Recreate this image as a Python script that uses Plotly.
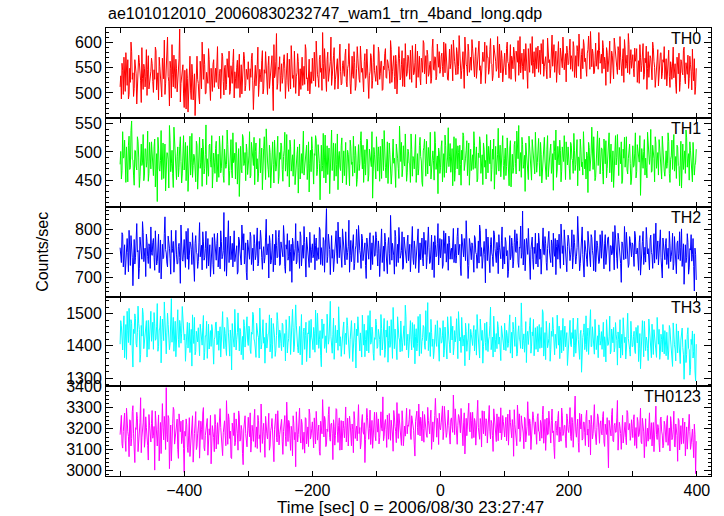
import plotly.graph_objects as go

# ---------------- data ----------------
# Each band is stored as two interleaved lists of 2-s samples:
#   <band>      -> bins at t = -500, -498, ... , 398
#   <band>_odd  -> bins at t = -499, -497, ... , 399
TIME_START = -500.0   # sec, first bin
TIME_BIN = 1.0        # sec per bin after interleaving

th0 = [
512, 488, 545, 571, 503, 530, 566, 497, 521, 583, 540, 509, 552, 478, 536, 561, 524, 590, 507, 548, 532, 495, 574, 519, 543,
558, 501, 527, 584, 539, 486, 552, 515, 569, 528, 497, 544, 611, 522, 563, 490, 537, 575, 509, 548, 526, 568, 482, 533, 556,
471, 512, 548, 462, 529, 504, 557, 486, 538, 496, 573, 519, 478, 545, 601, 527, 556, 499, 532, 588, 514, 549, 503, 566, 537,
521, 592, 508, 547, 530, 573, 496, 555, 517, 541, 583, 503, 536, 562, 490, 528, 551, 509, 577, 534, 498, 546, 569, 515, 540,
562, 505, 531, 579, 467, 538, 514, 556, 493, 547, 522, 584, 508, 539, 561, 497, 573, 528, 553, 512, 596, 536, 618, 519, 547,
503, 558, 531, 576, 489, 544, 520, 567, 508, 551, 535, 583, 499, 540, 562, 526, 507, 571, 544, 517, 586, 530, 555, 498, 542,
569, 524, 548, 603, 536, 511, 575, 549, 620, 528, 557, 503, 581, 539, 562, 515, 546, 590, 527, 553, 508, 571, 542, 519, 564,
533, 587, 512, 556, 541, 498, 573, 529, 560, 514, 592, 538, 521, 567, 549, 502, 578, 535, 556, 489, 543, 571, 525, 596, 537,
554, 516, 579, 538, 563, 507, 546, 588, 529, 561, 542, 604, 521, 557, 533, 575, 498, 549, 568, 530, 584, 545, 512, 563, 539,
572, 527, 555, 594, 536, 561, 510, 583, 547, 529, 569, 541, 599, 552, 518, 576, 538, 563, 528, 607, 545, 571, 533, 558, 582,
546, 579, 532, 568, 598, 551, 525, 587, 559, 541, 605, 562, 536, 579, 553, 592, 528, 566, 547, 611, 557, 534, 583, 560, 545,
589, 548, 572, 529, 567, 603, 554, 538, 581, 562, 519, 594, 571, 546, 608, 557, 535, 586, 563, 549, 575, 597, 540, 568, 553,
579, 536, 601, 558, 574, 527, 566, 591, 548, 583, 561, 535, 612, 570, 552, 587, 544, 576, 509, 563, 598, 555, 539, 582, 567,
548, 593, 561, 537, 579, 606, 553, 572, 528, 588, 566, 549, 615, 574, 541, 583, 559, 602, 536, 571, 550, 589, 563, 522, 580,
558, 607, 574, 543, 591, 564, 530, 582, 617, 555, 576, 548, 595, 569, 533, 586, 561, 622, 552, 578, 540, 599, 566, 547, 584,
563, 539, 590, 571, 515, 581, 556, 603, 544, 575, 528, 592, 560, 537, 584, 612, 553, 569, 521, 587, 558, 540, 596, 565, 549,
576, 532, 563, 588, 547, 519, 571, 554, 598, 536, 560, 507, 582, 545, 569, 526, 590, 551, 534, 573, 514, 557, 580, 538, 561,
527, 568, 543, 585, 511, 552, 574, 530, 558, 499, 547, 579, 521, 563, 536, 591, 518, 550, 575, 529, 556, 506, 543, 568, 512,
]
th0_odd = [
534, 559, 497, 522, 580, 515, 488, 549, 601, 527, 493, 566, 538, 505, 575, 542, 481, 529, 557, 512, 586, 547, 508, 537, 569,
523, 546, 591, 506, 540, 571, 529, 492, 543, 605, 518, 556, 533, 474, 549, 596, 512, 538, 567, 502, 534, 627, 519, 551, 498,
545, 468, 529, 504, 573, 487, 536, 518, 455, 551, 527, 492, 563, 508, 535, 577, 498, 541, 519, 566, 485, 530, 557, 511, 549,
560, 514, 538, 489, 579, 523, 550, 506, 568, 531, 497, 554, 519, 587, 542, 509, 565, 532, 491, 556, 523, 581, 504, 547, 527,
511, 548, 569, 524, 506, 555, 532, 591, 517, 536, 564, 498, 546, 582, 521, 554, 509, 539, 574, 465, 530, 563, 507, 551, 572,
535, 519, 563, 548, 524, 579, 503, 542, 594, 529, 511, 556, 532, 578, 494, 548, 571, 515, 553, 596, 528, 504, 567, 541, 519,
536, 581, 513, 552, 529, 567, 541, 505, 559, 588, 537, 566, 523, 550, 611, 532, 574, 507, 545, 568, 533, 597, 516, 555, 542,
575, 522, 549, 598, 518, 561, 537, 582, 505, 548, 569, 527, 593, 541, 515, 562, 529, 587, 552, 534, 578, 509, 561, 544, 523,
542, 591, 527, 563, 505, 553, 578, 531, 566, 549, 519, 586, 542, 574, 508, 559, 537, 592, 526, 556, 513, 569, 598, 533, 575,
548, 585, 521, 569, 540, 597, 552, 531, 573, 516, 561, 604, 538, 574, 585, 533, 556, 519, 589, 547, 572, 526, 597, 551, 539,
573, 552, 601, 540, 563, 527, 579, 548, 596, 524, 569, 551, 590, 537, 614, 561, 545, 582, 509, 575, 552, 597, 541, 571, 606,
561, 532, 590, 554, 578, 545, 518, 576, 563, 601, 548, 571, 537, 586, 559, 524, 595, 568, 543, 612, 530, 566, 584, 522, 578,
551, 588, 562, 529, 596, 573, 548, 581, 523, 569, 604, 557, 540, 579, 527, 565, 598, 553, 588, 541, 575, 612, 561, 532, 590,
572, 541, 585, 598, 558, 533, 571, 547, 609, 560, 530, 582, 553, 596, 567, 521, 574, 540, 589, 562, 611, 546, 578, 593, 556,
585, 547, 568, 602, 531, 574, 594, 553, 569, 528, 588, 606, 562, 541, 579, 613, 547, 572, 587, 538, 565, 553, 584, 620, 559,
577, 604, 548, 561, 590, 542, 575, 519, 583, 558, 609, 567, 551, 592, 546, 571, 534, 588, 606, 549, 575, 618, 537, 586, 571,
548, 589, 571, 521, 564, 596, 542, 580, 527, 569, 593, 549, 531, 574, 538, 601, 563, 511, 557, 586, 545, 579, 528, 566, 592,
555, 514, 579, 533, 562, 527, 591, 547, 516, 571, 538, 503, 566, 541, 585, 529, 560, 537, 509, 573, 542, 587, 524, 497, 549,
]

th1 = [
478, 452, 536, 491, 463, 509, 447, 528, 472, 555, 486, 441, 502, 468, 519, 437, 494, 476, 531, 459, 505, 483, 448, 517, 470,
496, 458, 523, 481, 412, 507, 466, 538, 489, 453, 514, 474, 498, 436, 521, 479, 462, 544, 487, 451, 509, 472, 527, 445, 493,
468, 517, 484, 430, 502, 459, 533, 476, 491, 447, 512, 465, 526, 481, 439, 505, 471, 548, 488, 457, 514, 473, 436, 498, 462,
519, 483, 455, 507, 471, 529, 446, 492, 478, 513, 441, 503, 467, 534, 485, 452, 497, 474, 421, 510, 463, 526, 480, 449, 501,
472, 536, 458, 495, 476, 442, 516, 488, 461, 524, 479, 433, 506, 470, 541, 484, 455, 499, 467, 518, 445, 492, 475, 528, 457,
487, 511, 448, 503, 466, 531, 477, 438, 509, 482, 457, 522, 471, 496, 427, 514, 486, 462, 537, 474, 499, 451, 518, 480, 465,
506, 443, 494, 521, 469, 488, 415, 512, 476, 454, 530, 483, 460, 507, 472, 539, 490, 449, 515, 478, 433, 501, 467, 525, 484,
458, 517, 475, 496, 440, 509, 482, 528, 463, 493, 451, 513, 479, 536, 470, 446, 504, 487, 521, 459, 497, 474, 418, 508, 481,
527, 466, 492, 510, 453, 485, 538, 472, 500, 444, 516, 478, 461, 523, 489, 437, 505, 471, 546, 483, 456, 511, 475, 494, 463,
501, 479, 532, 457, 488, 514, 446, 497, 470, 526, 484, 439, 508, 476, 519, 461, 493, 535, 468, 502, 450, 517, 481, 426, 498,
473, 520, 489, 455, 511, 477, 543, 492, 464, 506, 483, 448, 524, 470, 499, 512, 441, 486, 529, 474, 503, 458, 516, 488, 467,
495, 536, 471, 509, 452, 490, 518, 477, 442, 504, 485, 531, 463, 497, 521, 469, 487, 434, 510, 479, 542, 491, 456, 513, 476,
489, 458, 525, 481, 507, 438, 496, 472, 519, 461, 502, 547, 484, 455, 513, 478, 430, 500, 467, 528, 486, 450, 508, 473, 535,
464, 499, 482, 517, 445, 493, 526, 470, 505, 456, 488, 514, 475, 432, 501, 539, 468, 492, 521, 447, 509, 483, 460, 518, 477,
496, 451, 512, 485, 533, 467, 504, 440, 490, 523, 474, 459, 515, 487, 500, 428, 508, 481, 544, 469, 497, 455, 511, 476, 525,
484, 506, 443, 492, 520, 471, 498, 463, 514, 486, 437, 509, 477, 531, 458, 495, 518, 450, 489, 473, 527, 461, 503, 480, 452,
511, 476, 534, 465, 497, 482, 423, 506, 471, 522, 489, 454, 513, 478, 540, 466, 500, 447, 516, 483, 459, 507, 472, 528, 490,
457, 502, 480, 519, 446, 493, 469, 531, 485, 453, 509, 474, 498, 436, 514, 481, 462, 525, 488, 450, 503, 470, 517, 459, 482,
]
th1_odd = [
501, 467, 489, 521, 446, 483, 512, 469, 538, 487, 459, 503, 475, 527, 491, 456, 514, 482, 449, 506, 473, 537, 462, 495, 518,
462, 509, 438, 497, 526, 470, 485, 451, 516, 479, 431, 499, 486, 547, 465, 503, 437, 521, 474, 492, 456, 510, 483, 461, 529,
490, 449, 511, 473, 528, 482, 455, 496, 466, 519, 434, 489, 471, 507, 523, 461, 495, 442, 477, 512, 486, 529, 464, 482, 506,
447, 496, 528, 463, 490, 458, 505, 471, 539, 486, 467, 522, 454, 481, 498, 517, 443, 506, 488, 469, 531, 476, 499, 514, 460,
493, 454, 517, 482, 526, 501, 470, 447, 496, 463, 507, 489, 527, 451, 485, 469, 512, 436, 493, 478, 521, 466, 509, 444, 499,
516, 469, 492, 535, 481, 457, 504, 521, 466, 495, 514, 442, 488, 509, 473, 452, 497, 524, 459, 486, 512, 470, 429, 503, 527,
474, 497, 529, 458, 513, 480, 499, 466, 533, 491, 445, 511, 477, 426, 498, 467, 516, 484, 457, 532, 491, 473, 511, 445, 502,
489, 442, 503, 469, 521, 478, 457, 494, 510, 439, 484, 467, 520, 491, 512, 478, 459, 523, 448, 505, 480, 536, 466, 495, 452,
485, 509, 448, 477, 523, 467, 491, 454, 518, 487, 496, 443, 505, 480, 468, 514, 489, 453, 497, 517, 470, 483, 532, 448, 505,
480, 446, 505, 492, 470, 531, 485, 459, 511, 492, 446, 502, 523, 457, 484, 508, 475, 452, 501, 485, 536, 469, 493, 507, 462,
509, 447, 497, 530, 463, 491, 474, 515, 482, 440, 527, 467, 494, 511, 459, 478, 503, 534, 467, 489, 520, 479, 441, 505, 492,
469, 512, 486, 447, 498, 527, 462, 495, 516, 473, 452, 489, 510, 479, 448, 505, 523, 476, 460, 495, 466, 512, 487, 529, 451,
507, 474, 493, 440, 520, 486, 462, 513, 479, 537, 488, 466, 499, 526, 471, 494, 516, 482, 451, 506, 473, 522, 495, 461, 489,
481, 524, 457, 496, 472, 518, 484, 451, 529, 478, 503, 462, 497, 520, 486, 455, 510, 477, 503, 466, 492, 529, 451, 496, 509,
470, 517, 488, 462, 503, 478, 522, 491, 467, 505, 482, 536, 470, 452, 494, 517, 466, 498, 486, 527, 449, 484, 537, 495, 461,
507, 465, 523, 479, 454, 496, 534, 481, 447, 502, 471, 529, 490, 463, 508, 479, 444, 505, 526, 491, 468, 488, 514, 442, 495,
473, 498, 454, 513, 482, 529, 470, 491, 501, 459, 472, 535, 486, 495, 464, 512, 488, 527, 471, 499, 522, 480, 452, 497, 466,
498, 471, 534, 462, 487, 521, 505, 466, 492, 512, 476, 440, 519, 493, 469, 502, 539, 473, 497, 518, 481, 447, 493, 476, 505,
]

th2 = [
762, 731, 789, 744, 706, 771, 752, 798, 725, 760, 683, 779, 741, 812, 756, 719, 767, 738, 793, 748, 702, 775, 729, 764, 805,
746, 781, 715, 758, 733, 790, 754, 697, 769, 742, 826, 751, 722, 776, 739, 798, 760, 711, 785, 747, 729, 771, 688, 756, 734,
779, 721, 763, 802, 745, 770, 727, 756, 692, 787, 749, 733, 814, 758, 716, 774, 741, 796, 752, 724, 768, 739, 783, 707, 761,
736, 792, 750, 718, 775, 744, 835, 758, 703, 769, 731, 786, 754, 722, 797, 747, 766, 712, 778, 740, 809, 757, 728, 772, 695,
763, 738, 785, 752, 714, 771, 746, 803, 729, 759, 780, 717, 764, 742, 821, 755, 699, 773, 735, 790, 751, 726, 767, 743, 798,
728, 765, 743, 784, 709, 759, 736, 777, 754, 690, 771, 748, 812, 733, 762, 719, 786, 756, 740, 773, 701, 763, 745, 794, 731,
770, 747, 716, 782, 755, 738, 799, 762, 725, 776, 751, 843, 744, 768, 706, 787, 758, 733, 772, 749, 815, 741, 763, 721, 780,
752, 795, 737, 764, 711, 777, 748, 789, 729, 766, 742, 808, 756, 719, 781, 745, 772, 698, 761, 738, 793, 753, 727, 770, 746,
783, 724, 760, 744, 801, 757, 713, 775, 739, 767, 750, 829, 736, 762, 707, 785, 753, 731, 778, 746, 795, 720, 766, 742, 774,
735, 769, 752, 806, 727, 761, 744, 783, 710, 772, 757, 739, 794, 748, 718, 776, 763, 732, 788, 751, 700, 768, 745, 812, 758,
741, 779, 726, 764, 792, 749, 715, 773, 756, 738, 802, 761, 730, 785, 747, 769, 704, 777, 743, 760, 818, 754, 725, 771, 737,
766, 711, 782, 748, 759, 730, 797, 762, 741, 775, 689, 757, 784, 736, 768, 751, 723, 790, 745, 773, 708, 763, 739, 805, 755,
728, 774, 756, 713, 787, 744, 766, 734, 799, 752, 777, 721, 761, 740, 838, 757, 714, 781, 748, 769, 696, 775, 737, 763, 792,
749, 722, 776, 759, 739, 803, 747, 770, 715, 784, 753, 731, 767, 792, 744, 706, 778, 760, 736, 811, 750, 726, 772, 741, 765,
780, 735, 762, 718, 789, 754, 743, 827, 765, 729, 774, 748, 701, 769, 738, 796, 757, 722, 783, 745, 768, 712, 776, 753, 734,
761, 797, 742, 770, 727, 758, 784, 713, 766, 750, 738, 808, 755, 719, 779, 746, 690, 771, 737, 762, 794, 749, 728, 775, 743,
768, 723, 786, 752, 740, 773, 705, 759, 796, 745, 732, 779, 760, 716, 788, 747, 771, 730, 813, 755, 726, 766, 741, 699, 763,
737, 781, 754, 719, 770, 744, 792, 729, 762, 708, 776, 750, 735, 801, 747, 686, 768, 741, 773, 720, 757, 734, 781, 672, 748,
]
th2_odd = [
747, 793, 722, 768, 735, 781, 712, 759, 787, 741, 769, 728, 776, 753, 697, 784, 749, 816, 733, 761, 790, 744, 770, 719, 752,
773, 742, 797, 726, 764, 710, 778, 747, 739, 791, 758, 730, 786, 761, 707, 752, 775, 743, 798, 728, 764, 742, 809, 737, 766,
745, 796, 738, 717, 774, 758, 793, 741, 771, 752, 719, 772, 743, 767, 795, 736, 760, 719, 781, 757, 702, 752, 727, 791, 744,
771, 722, 763, 797, 739, 756, 713, 784, 747, 818, 761, 737, 771, 790, 733, 758, 707, 784, 755, 726, 765, 791, 746, 711, 778,
742, 794, 727, 761, 789, 737, 768, 724, 775, 798, 741, 753, 730, 784, 747, 770, 787, 728, 757, 712, 769, 798, 741, 783, 725,
774, 749, 808, 723, 768, 791, 744, 713, 769, 782, 735, 760, 728, 776, 750, 795, 724, 767, 806, 737, 784, 755, 721, 763, 758,
741, 789, 767, 735, 762, 804, 727, 749, 783, 711, 766, 731, 790, 758, 779, 740, 712, 765, 797, 729, 757, 784, 739, 801, 751,
726, 767, 752, 819, 746, 733, 771, 716, 759, 800, 731, 774, 747, 790, 735, 763, 725, 782, 754, 778, 716, 772, 787, 744, 795,
750, 776, 702, 789, 731, 765, 792, 748, 708, 783, 727, 763, 771, 745, 798, 723, 769, 804, 740, 756, 717, 784, 749, 730, 788,
767, 712, 793, 740, 776, 719, 755, 801, 765, 737, 782, 724, 761, 777, 741, 805, 729, 759, 716, 774, 787, 743, 770, 726, 781,
763, 719, 797, 750, 732, 770, 786, 738, 761, 795, 731, 769, 745, 803, 757, 724, 790, 752, 781, 735, 763, 698, 781, 749, 772,
738, 787, 752, 719, 776, 809, 744, 719, 770, 748, 801, 735, 763, 710, 783, 744, 797, 760, 731, 756, 789, 742, 776, 718, 764,
783, 745, 700, 766, 737, 782, 720, 773, 755, 791, 731, 763, 807, 752, 726, 779, 745, 769, 802, 736, 758, 784, 717, 750, 728,
771, 792, 738, 707, 763, 748, 785, 731, 760, 796, 742, 778, 722, 755, 781, 764, 738, 790, 719, 776, 766, 799, 745, 712, 788,
757, 747, 799, 741, 773, 728, 762, 782, 714, 750, 805, 731, 777, 752, 723, 772, 740, 789, 756, 714, 798, 745, 767, 729, 789,
740, 775, 718, 789, 754, 783, 733, 766, 747, 795, 716, 771, 740, 792, 762, 729, 774, 753, 806, 739, 760, 721, 785, 751, 772,
745, 796, 749, 761, 715, 787, 741, 775, 727, 763, 804, 749, 735, 780, 752, 719, 791, 760, 738, 776, 747, 799, 714, 782, 738,
770, 727, 761, 796, 733, 759, 716, 785, 743, 771, 738, 795, 762, 723, 770, 757, 731, 791, 707, 760, 789, 748, 723, 761, 695,
]

th3 = [
1405, 1462, 1387, 1493, 1421, 1358, 1447, 1516, 1402, 1469, 1334, 1438, 1485, 1396, 1523, 1451, 1372, 1430, 1498, 1412, 1456, 1365, 1479, 1428, 1507,
1442, 1389, 1470, 1421, 1531, 1398, 1455, 1347, 1483, 1416, 1460, 1375, 1501, 1433, 1408, 1546, 1449, 1383, 1476, 1427, 1512, 1395, 1464, 1437, 1480,
1418, 1352, 1446, 1393, 1471, 1410, 1337, 1435, 1488, 1382, 1424, 1456, 1369, 1441, 1402, 1494, 1379, 1430, 1361, 1467, 1415, 1398, 1452, 1343, 1427,
1474, 1405, 1386, 1459, 1422, 1506, 1391, 1438, 1370, 1481, 1414, 1449, 1325, 1433, 1396, 1468, 1420, 1502, 1384, 1445, 1407, 1357, 1463, 1429, 1490,
1401, 1453, 1376, 1436, 1497, 1412, 1364, 1444, 1425, 1517, 1390, 1458, 1408, 1346, 1471, 1419, 1439, 1381, 1486, 1403, 1450, 1367, 1432, 1478, 1394,
1441, 1385, 1465, 1417, 1353, 1448, 1409, 1492, 1373, 1434, 1456, 1399, 1527, 1416, 1378, 1460, 1426, 1341, 1444, 1389, 1473, 1410, 1437, 1362, 1482,
1415, 1457, 1380, 1429, 1501, 1392, 1447, 1335, 1423, 1468, 1404, 1379, 1451, 1419, 1538, 1400, 1436, 1358, 1463, 1414, 1386, 1476, 1428, 1396, 1455,
1374, 1439, 1487, 1408, 1361, 1445, 1421, 1393, 1470, 1331, 1431, 1459, 1384, 1413, 1495, 1402, 1366, 1448, 1425, 1378, 1509, 1411, 1443, 1355, 1420,
1466, 1397, 1432, 1370, 1454, 1412, 1485, 1388, 1427, 1349, 1461, 1405, 1438, 1519, 1391, 1423, 1357, 1446, 1418, 1477, 1383, 1434, 1401, 1490, 1414,
1363, 1440, 1419, 1472, 1395, 1344, 1453, 1407, 1430, 1498, 1376, 1425, 1458, 1389, 1416, 1534, 1403, 1367, 1442, 1421, 1384, 1465, 1398, 1435, 1352,
1449, 1411, 1478, 1386, 1426, 1359, 1440, 1403, 1491, 1418, 1372, 1447, 1431, 1394, 1506, 1415, 1379, 1457, 1422, 1338, 1444, 1409, 1469, 1387, 1436,
1401, 1463, 1424, 1371, 1452, 1396, 1483, 1417, 1346, 1438, 1410, 1474, 1382, 1429, 1520, 1405, 1365, 1446, 1419, 1391, 1459, 1427, 1354, 1441, 1412,
1470, 1385, 1433, 1407, 1496, 1420, 1362, 1451, 1398, 1428, 1376, 1462, 1415, 1533, 1390, 1437, 1408, 1348, 1445, 1423, 1487, 1399, 1431, 1369, 1456,
1412, 1381, 1466, 1425, 1394, 1503, 1418, 1357, 1440, 1406, 1471, 1388, 1429, 1453, 1372, 1417, 1495, 1402, 1360, 1448, 1421, 1385, 1461, 1414, 1339,
1432, 1479, 1397, 1423, 1366, 1450, 1410, 1486, 1393, 1437, 1318, 1426, 1468, 1404, 1382, 1455, 1419, 1512, 1398, 1431, 1374, 1447, 1409, 1363, 1442,
1416, 1389, 1473, 1428, 1350, 1439, 1405, 1492, 1383, 1422, 1457, 1395, 1436, 1340, 1419, 1481, 1403, 1371, 1449, 1427, 1390, 1501, 1411, 1368, 1434,
1398, 1445, 1376, 1420, 1463, 1392, 1329, 1430, 1408, 1476, 1385, 1417, 1354, 1441, 1401, 1467, 1373, 1424, 1394, 1488, 1405, 1358, 1436, 1381, 1413,
1447, 1369, 1407, 1384, 1452, 1397, 1336, 1425, 1390, 1468, 1378, 1412, 1345, 1433, 1395, 1296, 1419, 1373, 1456, 1388, 1327, 1404, 1362, 1437, 1291,
]
th3_odd = [
1478, 1425, 1452, 1363, 1466, 1507, 1410, 1439, 1481, 1384, 1451, 1499, 1407, 1442, 1470, 1349, 1463, 1517, 1391, 1435, 1478, 1426, 1389, 1458, 1414,
1473, 1503, 1417, 1461, 1383, 1449, 1492, 1420, 1456, 1536, 1402, 1440, 1466, 1388, 1459, 1411, 1488, 1436, 1366, 1452, 1419, 1479, 1408, 1522, 1449,
1436, 1400, 1473, 1425, 1379, 1451, 1496, 1407, 1372, 1445, 1412, 1390, 1467, 1434, 1458, 1356, 1431, 1476, 1409, 1390, 1447, 1466, 1373, 1419, 1472,
1403, 1446, 1431, 1365, 1480, 1418, 1457, 1395, 1488, 1440, 1368, 1423, 1469, 1406, 1513, 1387, 1441, 1417, 1454, 1372, 1429, 1481, 1396, 1447, 1415,
1461, 1387, 1442, 1504, 1421, 1390, 1470, 1433, 1362, 1448, 1404, 1481, 1426, 1452, 1393, 1437, 1496, 1408, 1361, 1469, 1427, 1385, 1503, 1415, 1449,
1407, 1470, 1396, 1438, 1481, 1378, 1422, 1455, 1417, 1513, 1381, 1442, 1464, 1395, 1428, 1372, 1497, 1419, 1455, 1432, 1351, 1440, 1478, 1401, 1427,
1388, 1439, 1511, 1403, 1455, 1420, 1369, 1483, 1446, 1392, 1431, 1498, 1405, 1464, 1428, 1377, 1486, 1437, 1409, 1449, 1521, 1399, 1367, 1440, 1474,
1431, 1404, 1462, 1385, 1419, 1478, 1351, 1432, 1409, 1452, 1490, 1396, 1440, 1365, 1428, 1467, 1419, 1384, 1494, 1437, 1405, 1458, 1376, 1425, 1483,
1392, 1451, 1419, 1497, 1387, 1436, 1364, 1449, 1478, 1416, 1395, 1481, 1361, 1430, 1452, 1408, 1490, 1425, 1381, 1444, 1409, 1462, 1526, 1387, 1436,
1423, 1478, 1387, 1411, 1466, 1428, 1384, 1491, 1368, 1447, 1413, 1463, 1402, 1509, 1436, 1385, 1441, 1482, 1398, 1360, 1449, 1413, 1478, 1395, 1456,
1408, 1431, 1365, 1458, 1404, 1490, 1421, 1378, 1437, 1461, 1397, 1412, 1484, 1360, 1444, 1426, 1488, 1399, 1433, 1470, 1383, 1424, 1356, 1451, 1415,
1441, 1384, 1450, 1497, 1409, 1362, 1435, 1448, 1397, 1470, 1386, 1443, 1418, 1463, 1388, 1427, 1492, 1381, 1438, 1475, 1405, 1372, 1462, 1424, 1387,
1427, 1448, 1395, 1461, 1377, 1442, 1473, 1410, 1489, 1368, 1443, 1420, 1392, 1457, 1416, 1380, 1475, 1430, 1404, 1462, 1377, 1443, 1482, 1412, 1389,
1460, 1435, 1392, 1457, 1512, 1368, 1441, 1476, 1394, 1423, 1352, 1445, 1488, 1407, 1436, 1392, 1427, 1461, 1415, 1378, 1485, 1432, 1397, 1441, 1387,
1468, 1405, 1441, 1486, 1402, 1377, 1463, 1419, 1358, 1448, 1401, 1441, 1388, 1493, 1428, 1373, 1439, 1397, 1459, 1417, 1482, 1388, 1431, 1465, 1402,
1444, 1470, 1366, 1412, 1481, 1401, 1428, 1375, 1452, 1409, 1381, 1472, 1417, 1443, 1393, 1362, 1436, 1487, 1410, 1359, 1446, 1423, 1389, 1476, 1397,
1429, 1386, 1457, 1409, 1351, 1438, 1415, 1478, 1366, 1444, 1427, 1391, 1483, 1409, 1363, 1432, 1450, 1397, 1364, 1429, 1451, 1381, 1419, 1466, 1375,
1403, 1442, 1357, 1463, 1418, 1380, 1471, 1403, 1353, 1429, 1446, 1366, 1418, 1455, 1372, 1412, 1348, 1435, 1391, 1309, 1420, 1446, 1383, 1322, 1405,
]

th0123 = [
3172, 3264, 3108, 3221, 3145, 3298, 3186, 3067, 3239, 3153, 3310, 3124, 3205, 3279, 3091, 3197, 3348, 3160, 3228, 3112, 3257, 3176, 3051, 3214, 3137,
3287, 3169, 3003, 3231, 3118, 3266, 3194, 3082, 3320, 3147, 3213, 3396, 3138, 3250, 3175, 3047, 3224, 3290, 3155, 3208, 3101, 3271, 3186, 3129, 3242,
2992, 3165, 3219, 3087, 3253, 3134, 3197, 3041, 3178, 3282, 3116, 3204, 3060, 3236, 3149, 3301, 3095, 3188, 3249, 3121, 3170, 3033, 3215, 3158, 3268,
3104, 3229, 3181, 3296, 3143, 3072, 3211, 3167, 3334, 3126, 3245, 3189, 3058, 3203, 3276, 3135, 3220, 3098, 3261, 3150, 3192, 3029, 3238, 3177, 3114,
3255, 3162, 3089, 3217, 3140, 3293, 3183, 3106, 3240, 3171, 3318, 3130, 3226, 3064, 3198, 3152, 3274, 3117, 3209, 3185, 3043, 3232, 3159, 3286, 3123,
3196, 3245, 3078, 3212, 3164, 3327, 3139, 3230, 3097, 3190, 3262, 3148, 3019, 3207, 3173, 3299, 3132, 3222, 3156, 3084, 3248, 3180, 3115, 3270, 3166,
3233, 3109, 3194, 3283, 3146, 3218, 3074, 3201, 3339, 3161, 3243, 3127, 3187, 3305, 3141, 3227, 3053, 3210, 3168, 3291, 3135, 3252, 3182, 3099, 3237,
3157, 3304, 3199, 3118, 3260, 3178, 3223, 3086, 3246, 3191, 3142, 3315, 3206, 3133, 3268, 3174, 3039, 3216, 3253, 3150, 3289, 3195, 3107, 3241, 3167,
3278, 3184, 3128, 3235, 3202, 3352, 3163, 3244, 3111, 3220, 3273, 3145, 3208, 3093, 3256, 3188, 3325, 3154, 3230, 3179, 3286, 3119, 3213, 3261, 3176,
3212, 3292, 3149, 3239, 3193, 3070, 3254, 3205, 3318, 3166, 3227, 3283, 3136, 3219, 3170, 3302, 3198, 3247, 3102, 3233, 3187, 3345, 3160, 3221, 3274,
3195, 3261, 3148, 3307, 3224, 3181, 3289, 3137, 3243, 3210, 3361, 3172, 3236, 3126, 3268, 3201, 3297, 3164, 3228, 3080, 3250, 3207, 3322, 3185, 3241,
3279, 3158, 3231, 3196, 3336, 3174, 3249, 3113, 3218, 3284, 3167, 3238, 3204, 3311, 3152, 3226, 3092, 3259, 3192, 3271, 3143, 3215, 3300, 3178, 3234,
3161, 3255, 3207, 3122, 3290, 3183, 3244, 3069, 3220, 3176, 3313, 3199, 3139, 3262, 3211, 3105, 3247, 3189, 3329, 3168, 3225, 3146, 3281, 3197, 3233,
3126, 3272, 3186, 3240, 3155, 3308, 3203, 3097, 3251, 3174, 3219, 3132, 3294, 3190, 3058, 3237, 3169, 3283, 3208, 3141, 3265, 3179, 3216, 3110, 3248,
3182, 3301, 3144, 3229, 3193, 3356, 3160, 3246, 3088, 3214, 3270, 3153, 3232, 3120, 3288, 3199, 3242, 3075, 3221, 3177, 3315, 3164, 3206, 3258, 3131,
3238, 3171, 3282, 3116, 3200, 3253, 3014, 3217, 3166, 3297, 3138, 3226, 3184, 3335, 3150, 3209, 3102, 3264, 3175, 3231, 3124, 3277, 3196, 3145, 3243,
3158, 3267, 3191, 3107, 3235, 3173, 3298, 3129, 3212, 3062, 3248, 3180, 3141, 3276, 3197, 3118, 3230, 3163, 3308, 3149, 3205, 3090, 3256, 3170, 3121,
3219, 3136, 3263, 3178, 3094, 3227, 3157, 3284, 3113, 3192, 3045, 3240, 3168, 3127, 3251, 3183, 3071, 3209, 3147, 3269, 3102, 3187, 3134, 3222, 2986,
]
th0123_odd = [
3238, 3129, 3187, 3275, 3092, 3211, 3164, 3243, 3118, 3282, 3176, 3039, 3197, 3250, 3143, 3229, 3086, 3189, 3296, 3150, 3207, 3121, 3268, 3182, 3226,
3155, 3211, 3284, 3140, 3196, 3047, 3230, 3163, 3205, 3259, 3101, 3174, 3263, 3010, 3218, 3189, 3302, 3127, 3178, 3246, 3059, 3193, 3236, 3152, 3107,
3188, 3247, 3112, 3170, 3068, 3204, 3262, 3147, 3223, 3101, 3176, 3239, 3136, 3197, 3275, 3110, 3168, 3230, 3074, 3200, 3264, 3142, 3186, 3091, 3221,
3172, 3126, 3258, 3207, 3085, 3181, 3238, 3119, 3194, 3271, 3154, 3063, 3227, 3168, 3119, 3247, 3176, 3285, 3141, 3216, 3083, 3199, 3262, 3131, 3190,
3201, 3276, 3138, 3185, 3242, 3112, 3209, 3264, 3153, 3088, 3222, 3187, 3145, 3259, 3176, 3230, 3098, 3191, 3249, 3126, 3198, 3271, 3137, 3215, 3172,
3226, 3141, 3188, 3263, 3117, 3194, 3240, 3155, 3212, 3071, 3227, 3183, 3281, 3137, 3219, 3166, 3245, 3102, 3184, 3253, 3128, 3209, 3294, 3151, 3200,
3170, 3252, 3128, 3214, 3187, 3092, 3236, 3176, 3204, 3259, 3115, 3199, 3268, 3158, 3222, 3177, 3243, 3122, 3296, 3189, 3215, 3098, 3239, 3166, 3201,
3216, 3137, 3251, 3172, 3226, 3119, 3196, 3282, 3154, 3213, 3266, 3177, 3104, 3237, 3186, 3229, 3148, 3297, 3175, 3202, 3125, 3240, 3184, 3279, 3143,
3205, 3247, 3158, 3281, 3189, 3143, 3229, 3197, 3266, 3150, 3196, 3241, 3175, 3287, 3210, 3134, 3223, 3272, 3191, 3121, 3240, 3205, 3165, 3298, 3218,
3244, 3175, 3262, 3213, 3127, 3236, 3284, 3171, 3210, 3255, 3142, 3201, 3268, 3224, 3159, 3240, 3176, 3289, 3214, 3138, 3263, 3197, 3250, 3125, 3206,
3228, 3309, 3188, 3243, 3159, 3270, 3215, 3127, 3252, 3183, 3231, 3295, 3169, 3217, 3256, 3181, 3233, 3119, 3276, 3205, 3167, 3238, 3198, 3278, 3154,
3213, 3249, 3122, 3266, 3205, 3150, 3222, 3286, 3176, 3197, 3248, 3132, 3269, 3188, 3240, 3167, 3295, 3213, 3139, 3222, 3257, 3180, 3148, 3263, 3199,
3218, 3142, 3270, 3193, 3231, 3157, 3206, 3291, 3184, 3119, 3237, 3271, 3162, 3228, 3180, 3255, 3137, 3212, 3170, 3247, 3101, 3208, 3255, 3174, 3196,
3257, 3188, 3142, 3223, 3267, 3131, 3245, 3196, 3171, 3284, 3158, 3239, 3181, 3112, 3226, 3192, 3248, 3137, 3187, 3299, 3168, 3216, 3152, 3271, 3194,
3219, 3163, 3254, 3112, 3236, 3189, 3210, 3135, 3274, 3199, 3146, 3232, 3181, 3257, 3170, 3113, 3221, 3264, 3152, 3240, 3196, 3124, 3271, 3188, 3223,
3179, 3258, 3137, 3222, 3173, 3097, 3240, 3191, 3268, 3143, 3216, 3183, 3252, 3098, 3231, 3177, 3245, 3132, 3204, 3159, 3287, 3196, 3225, 3168, 3202,
3244, 3120, 3206, 3254, 3163, 3218, 3137, 3250, 3185, 3231, 3116, 3203, 3269, 3150, 3229, 3183, 3091, 3241, 3172, 3220, 3134, 3247, 3189, 3109, 3236,
3175, 3237, 3121, 3204, 3258, 3148, 3196, 3117, 3223, 3168, 3249, 3099, 3215, 3181, 3130, 3232, 3158, 3103, 3241, 3187, 3126, 3199, 3062, 3172, 3141,
]

band_names = ["TH0", "TH1", "TH2", "TH3", "TH0123"]
band_even = [th0, th1, th2, th3, th0123]
band_odd = [th0_odd, th1_odd, th2_odd, th3_odd, th0123_odd]
y_ranges = [[451, 629], [402, 561], [660, 846], [1274, 1552], [2975, 3402]]
y_major = [50, 50, 50, 100, 100]
y_minor = [10, 10, 10, 20, 20]
x_range = [-522, 422]

title_text = "ae101012010_20060830232747_wam1_trn_4band_long.qdp"
x_title = "Time [sec] 0 = 2006/08/30 23:27:47"
y_title = "Counts/sec"

# ---------------- style ----------------
colors = ["#ff0000", "#00ff00", "#0000ff", "#00ffff", "#ff00ff"]
FONT = "Liberation Sans, Arial, Helvetica, sans-serif"
n = len(band_names)

fig = go.Figure()
layout = dict(
    width=724, height=516,
    margin=dict(l=106, r=13, t=28, b=40),
    paper_bgcolor="white", plot_bgcolor="white",
    showlegend=False,
    font=dict(family=FONT, size=16, color="black"),
)

annotations = []
for i, name in enumerate(band_names):
    k = i + 1
    vals = [v for pair in zip(band_even[i], band_odd[i]) for v in pair]
    xs = [TIME_START + TIME_BIN * j for j in range(len(vals))]
    fig.add_trace(go.Scatter(
        x=xs, y=vals, mode="lines",
        line=dict(color=colors[i], width=1),
        xaxis="x" if k == 1 else f"x{k}",
        yaxis="y" if k == 1 else f"y{k}",
        hoverinfo="skip",
    ))
    top = 1 - i / n
    bot = 1 - (i + 1) / n
    xa = dict(
        domain=[0, 1], range=x_range, anchor="y" if k == 1 else f"y{k}",
        showline=True, linecolor="black", linewidth=1, mirror="ticks",
        ticks="inside", ticklen=5, tickcolor="black", tickwidth=1,
        dtick=200, tick0=0,
        minor=dict(dtick=100, tick0=0, ticks="inside", ticklen=5, tickcolor="black"),
        showgrid=False, zeroline=False,
        showticklabels=(i == n - 1),
        tickfont=dict(size=16),
    )
    if k > 1:
        xa["matches"] = "x"
    ya = dict(
        domain=[bot, top], range=y_ranges[i], anchor="x" if k == 1 else f"x{k}",
        showline=True, linecolor="black", linewidth=1, mirror="ticks",
        ticks="inside", ticklen=7, tickcolor="black", tickwidth=1,
        dtick=y_major[i], tick0=0,
        minor=dict(dtick=y_minor[i], tick0=0, ticks="inside", ticklen=3, tickcolor="black"),
        showgrid=False, zeroline=False,
        tickfont=dict(size=16),
    )
    layout["xaxis" if k == 1 else f"xaxis{k}"] = xa
    layout["yaxis" if k == 1 else f"yaxis{k}"] = ya
    annotations.append(dict(
        text=name, xref="paper", yref="paper", x=1, y=top,
        xanchor="right", yanchor="top", xshift=-8, yshift=0,
        showarrow=False, font=dict(size=16, color="black"),
    ))

annotations.append(dict(
    text=title_text, xref="paper", yref="paper", x=0, y=1,
    xanchor="left", yanchor="bottom", yshift=3, showarrow=False,
    font=dict(size=16),
))
annotations.append(dict(
    text=x_title, xref="paper", yref="paper", x=0.503, y=0,
    xanchor="center", yanchor="top", yshift=-20, showarrow=False,
    font=dict(size=17),
))
annotations.append(dict(
    text=y_title, xref="paper", yref="paper", x=-0.106, y=0.5,
    xanchor="center", yanchor="middle", textangle=-90, showarrow=False,
    font=dict(size=16),
))
layout["annotations"] = annotations
fig.update_layout(**layout)
fig.write_html(
    "out.html",
    config={"displayModeBar": False},
    post_script="document.body.style.margin='0';document.body.style.overflow='hidden';",
)
